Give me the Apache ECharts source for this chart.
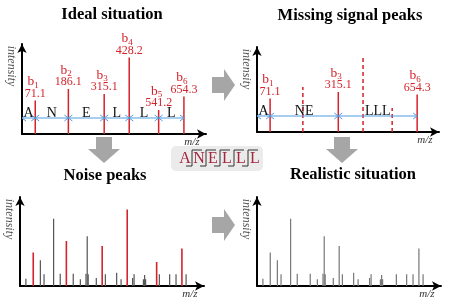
<!DOCTYPE html>
<html><head><meta charset="utf-8">
<script src="https://cdn.jsdelivr.net/npm/echarts@6/dist/echarts.min.js"></script>
<style>html,body{margin:0;padding:0;background:#fff}#c{width:455px;height:306px}</style>
</head><body><div id="c"></div>
<script>
// ---- data ----
const residues = ['A', 'N', 'E', 'L', 'L', 'L'];
const ionMz = ['71.1', '186.1', '315.1', '428.2', '541.2', '654.3'];
const peakX = [54, 189, 335, 437, 557, 660];      // position on m/z axis
const peakH = [33.5, 45, 40, 76.5, 24, 37.5];     // intensity
const observed = [1, 0, 1, 0, 0, 1];              // peaks kept in the "missing" case
const noiseX = [24, 83, 98, 137, 164, 217, 246, 269, 274, 278, 311, 348, 394, 412, 459, 465, 503, 508, 512, 568, 610, 636, 677];
const noiseH = [7.3, 25.7, 11.7, 67.3, 12.3, 12.3, 6.7, 12.3, 49.7, 11.7, 8, 11.7, 13.3, 6.7, 8, 11.7, 6.7, 11, 6.7, 11.7, 11.7, 11.7, 11.7];
const titles = ['Ideal situation', 'Missing signal peaks', 'Noise peaks', 'Realistic situation'];

// ---- style / layout ----
const RED = '#d4232b', BLUE = '#4f9de0', SERIF = '"Liberation Serif","Times New Roman",serif';
const ARROW_Y = 16;
const grids = [
  {left: 22, top: 44, width: 184, height: 90},
  {left: 257, top: 47, width: 182, height: 85},
  {left: 20, top: 197, width: 184, height: 89},
  {left: 257, top: 197, width: 184, height: 89}
];

const chart = echarts.init(document.getElementById('c'));

function axisCommon(i) {
  return {
    gridIndex: i, type: 'value', min: 0,
    axisLine: {show: true, onZero: false, lineStyle: {color: '#000', width: 2}, symbol: ['none', 'arrow'], symbolSize: [7, 9]},
    axisTick: {show: false}, axisLabel: {show: false}, splitLine: {show: false}
  };
}

function ionLabel(top, i) {
  return [
    {type: 'text', style: {text: 'b', x: top[0] - 1, y: top[1] - 19, font: '13.5px ' + SERIF, fill: RED, align: 'right', verticalAlign: 'middle'}},
    {type: 'text', style: {text: String(i + 1), x: top[0] - 1, y: top[1] - 15, font: '9px ' + SERIF, fill: RED, align: 'left', verticalAlign: 'middle'}},
    {type: 'text', style: {text: ionMz[i], x: top[0], y: top[1] - 7, font: '12px ' + SERIF, fill: RED, align: 'center', verticalAlign: 'middle'}}
  ];
}

function peakSeries(gi, data, colorFn, withLabels) {
  return {
    type: 'custom', xAxisIndex: gi, yAxisIndex: gi, clip: false, silent: true,
    data: data,
    renderItem: function (p, api) {
      const x = api.value(0), h = api.value(1), i = api.value(2), kind = api.value(3);
      const base = api.coord([x, 0]), top = api.coord([x, h]);
      const st = colorFn(kind);
      const children = [{type: 'line', shape: {x1: base[0], y1: base[1], x2: top[0], y2: top[1]},
        style: {stroke: st.c, lineWidth: st.w, lineDash: st.dash || null}}];
      if (withLabels && kind === 1) children.push.apply(children, ionLabel(top, i));
      return {type: 'group', children: children};
    }
  };
}

function segmentSeries(gi, mask) {
  const b = [0], labs = [];
  let cur = '';
  residues.forEach(function (r, i) { cur += r; if (mask[i]) { b.push(peakX[i]); labs.push(cur); cur = ''; } });
  return {
    type: 'custom', xAxisIndex: gi, yAxisIndex: gi, clip: false, silent: true,
    data: labs.map(function (l, k) { return [b[k], b[k + 1], k]; }),
    renderItem: function (p, api) {
      const p1 = api.coord([api.value(0), ARROW_Y]), p2 = api.coord([api.value(1), ARROW_Y]);
      const y = p1[1];
      const s = {stroke: BLUE, lineWidth: 1, fill: null};
      return {type: 'group', children: [
        {type: 'line', shape: {x1: p1[0], y1: y, x2: p2[0], y2: y}, style: s},
        {type: 'polyline', shape: {points: [[p1[0] + 4, y - 3], [p1[0], y], [p1[0] + 4, y + 3]]}, style: s},
        {type: 'polyline', shape: {points: [[p2[0] - 4, y - 3], [p2[0], y], [p2[0] - 4, y + 3]]}, style: s},
        {type: 'text', style: {text: labs[api.value(2)], x: (p1[0] + p2[0]) / 2, y: y - 5, font: '14px ' + SERIF, fill: '#111', align: 'center', verticalAlign: 'middle'}}
      ]};
    }
  };
}

const allOn = residues.map(function () { return 1; });
const realData = function (mask) { return peakX.map(function (x, i) { return [x, peakH[i], i, mask[i]]; }); };
const noiseData = noiseX.map(function (x, i) { return [x, noiseH[i], i, 0]; });

const series = [
  peakSeries(0, realData(allOn), function () { return {c: RED, w: 1.5}; }, true),
  segmentSeries(0, allOn),
  peakSeries(1, realData(observed), function (k) { return k ? {c: RED, w: 1.5} : {c: RED, w: 1.5, dash: [4, 3]}; }, true),
  segmentSeries(1, observed),
  peakSeries(2, noiseData, function () { return {c: '#555', w: 1.2}; }, false),
  peakSeries(2, realData(allOn), function () { return {c: RED, w: 1.6}; }, false),
  peakSeries(3, noiseData, function () { return {c: '#777', w: 1.2}; }, false),
  peakSeries(3, realData(observed).filter(function (d) { return d[3]; }), function () { return {c: '#777', w: 1.2}; }, false)
];

// graphic decorations
const graphic = [];
const titlePos = [[112, 15], [350, 16], [105, 176], [353, 175]];
titles.forEach(function (t, i) {
  graphic.push({type: 'text', x: titlePos[i][0], y: titlePos[i][1], style: {text: t, font: 'bold 16.5px ' + SERIF, fill: '#000', align: 'center', verticalAlign: 'middle'}});
});
grids.forEach(function (g) {
  graphic.push({type: 'text', x: g.left - 11, y: g.top + 22, rotation: -Math.PI / 2,
    style: {text: 'intensity', font: 'italic 12px ' + SERIF, fill: '#555', align: 'center', verticalAlign: 'middle'}});
  graphic.push({type: 'text', x: g.left + g.width - 14, y: g.top + g.height + 8,
    style: {text: 'm/z', font: 'italic 11px ' + SERIF, fill: '#333', align: 'center', verticalAlign: 'middle'}});
});
const GRAY = '#a6a6a6';
function rightArrow(x0, yc) {
  return {type: 'polygon', shape: {points: [[x0, yc - 8], [x0 + 12, yc - 8], [x0 + 12, yc - 16], [x0 + 23, yc], [x0 + 12, yc + 16], [x0 + 12, yc + 8], [x0, yc + 8]]}, style: {fill: GRAY}};
}
function downArrow(xc, y0) {
  return {type: 'polygon', shape: {points: [[xc - 8, y0], [xc + 8, y0], [xc + 8, y0 + 12], [xc + 16, y0 + 12], [xc, y0 + 26], [xc - 16, y0 + 12], [xc - 8, y0 + 12]]}, style: {fill: GRAY}};
}
graphic.push(rightArrow(212, 85), rightArrow(212, 225), downArrow(104, 137), downArrow(342, 137));
// sequence box
graphic.push({type: 'rect', shape: {x: 171, y: 146, width: 92, height: 25, r: 5}, style: {fill: '#ebebeb'}});
residues.forEach(function (r, i) {
  graphic.push({type: 'text', x: 185 + i * 14, y: 159, style: {text: r, font: '16px ' + SERIF, fill: '#a3263d', align: 'center', verticalAlign: 'middle'}});
  if (i > 0) {
    const sx = 185 + i * 14 - 7;
    graphic.push({type: 'polyline', shape: {points: [[sx - 6, 166], [sx, 166], [sx, 150], [sx + 10, 150]]}, style: {stroke: '#333', lineWidth: 1, fill: null}});
  }
});

chart.setOption({
  animation: false,
  grid: grids,
  xAxis: grids.map(function (g, i) { return Object.assign(axisCommon(i), {max: 750}); }),
  yAxis: grids.map(function (g, i) { return Object.assign(axisCommon(i), {max: g.height}); }),
  series: series,
  graphic: graphic
});
</script></body></html>
